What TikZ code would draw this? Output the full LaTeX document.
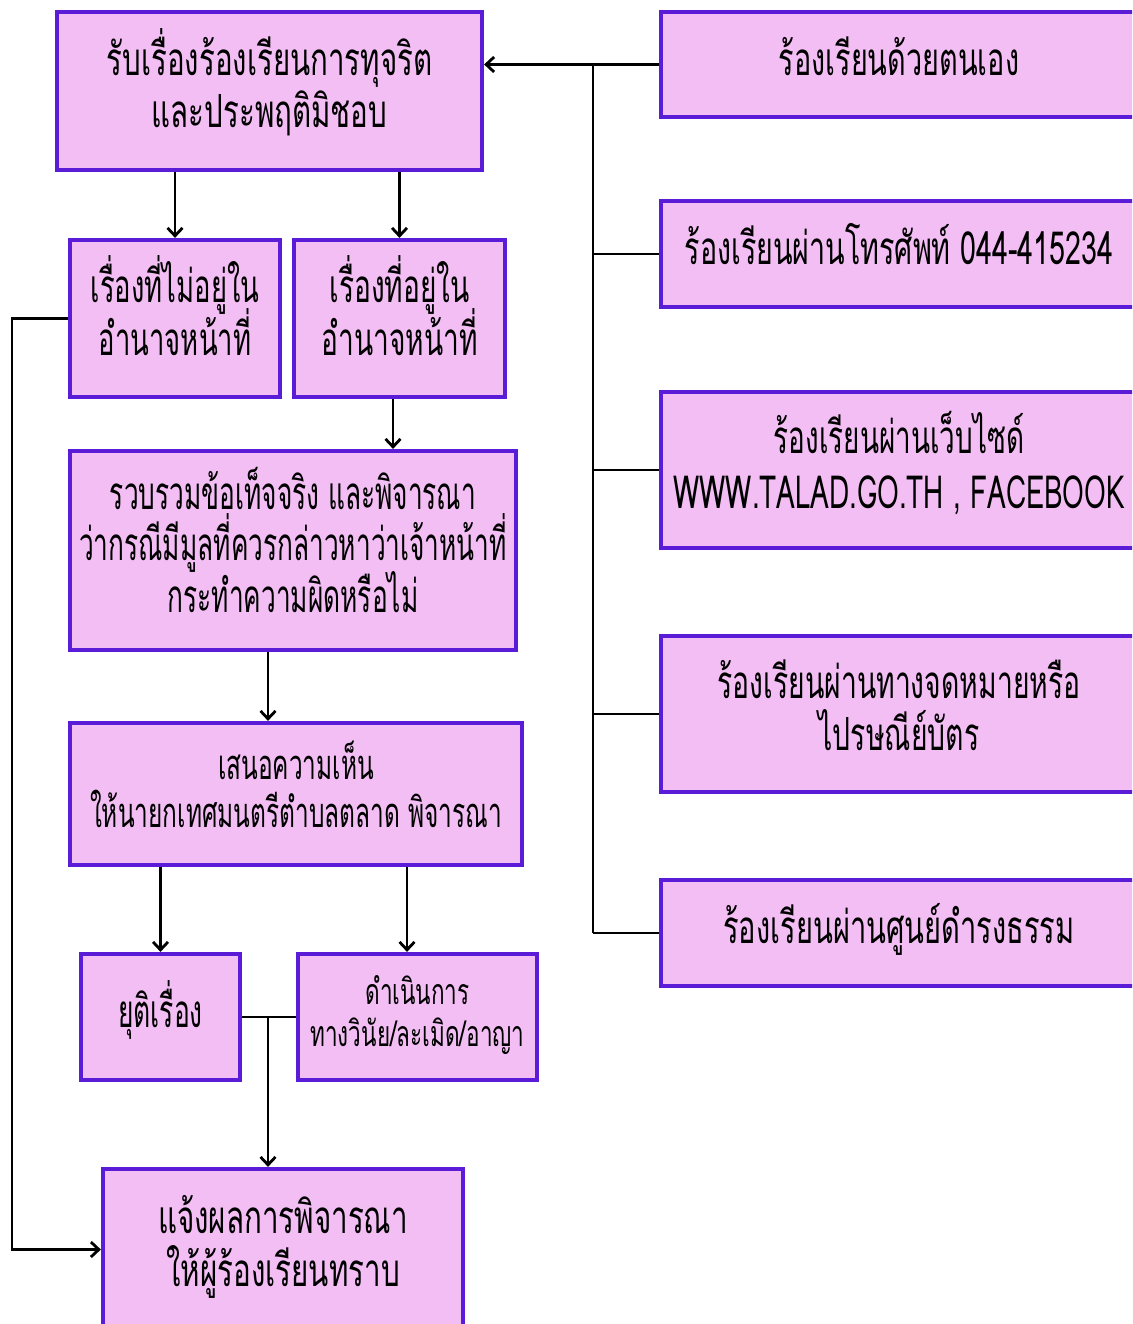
\documentclass[tikz,border=0pt]{standalone}
\usepackage{fontspec}
\usepackage{graphicx}
\setmainfont[Script=Thai]{Loma}
\usetikzlibrary{arrows.meta}
\definecolor{boxfill}{HTML}{F2BEF3}
\definecolor{boxline}{HTML}{5A1CD6}
\newcommand\txtbig{\fontsize{26}{30}\selectfont}
\newcommand\txtD{\fontsize{26}{29.5}\selectfont}
\newcommand\txtmid{\fontsize{23.7}{27.2}\selectfont}
\newcommand\txtsmall{\fontsize{20.3}{23.8}\selectfont}
\newcommand\txtRthree{\fontsize{26}{31.7}\selectfont}
\newcommand\sqz[2]{\scalebox{#1}[1]{\begin{tabular}{@{}c@{}}#2\end{tabular}}}
\newcommand\smL[1]{\smash{#1}}
\begin{document}
\begin{tikzpicture}[x=0.02cm,y=-0.02cm,
  box/.style={draw=boxline, line width=2.4pt, fill=boxfill, inner sep=0pt, align=center, font=\txtbig},
  sz/.style 2 args={minimum width=#1*0.02cm, minimum height=#2*0.02cm},
  link/.style={line width=1.6pt, black},
  arr/.style={link, -{Straight Barb[length=4.5pt,width=8.5pt,line width=1.6pt]}}]
\useasboundingbox (0,0) rectangle (1132,1324);
\clip (0,0) rectangle (1132,1324);
\fill[white] (0,0) rectangle (1132,1324);

\node[box,sz={425}{158}] (A) at (269.5,91) {\sqz{0.645}{\smL{รับเรื่องร้องเรียนการทุจริต}\\\smL{และประพฤติมิชอบ}}};
\node[box,sz={210}{157}] (B) at (175,318.5) {\sqz{0.60}{\smL{เรื่องที่ไม่อยู่ใน}\\\smL{อำนาจหน้าที่}}};
\node[box,sz={211}{157}] (C) at (399.5,318.5) {\sqz{0.615}{\smL{เรื่องที่อยู่ใน}\\\smL{อำนาจหน้าที่}}};
\node[box,sz={446}{199},font=\txtD] (D) at (293,550.5) {\sqz{0.575}{\smL{รวบรวมข้อเท็จจริง และพิจารณา}\\\smL{ว่ากรณีมีมูลที่ควรกล่าวหาว่าเจ้าหน้าที่}\\\smL{กระทำความผิดหรือไม่}}};
\node[box,sz={452}{142},font=\txtmid] (E) at (296,794) {\sqz{0.587}{\smL{เสนอความเห็น}\\\smL{ให้นายกเทศมนตรีตำบลตลาด พิจารณา}}};
\node[box,sz={159}{126}] (F) at (160.5,1017) {\sqz{0.578}{\smL{ยุติเรื่อง}}};
\node[box,sz={239}{126},font=\txtsmall] (G) at (417.5,1017) {\sqz{0.632}{\smL{ดำเนินการ}\\\smL{ทางวินัย/ละเมิด/อาญา}}};
\node[box,sz={360}{161}] (H) at (283,1249.5) {\sqz{0.647}{\smL{แจ้งผลการพิจารณา}\\\smL{ให้ผู้ร้องเรียนทราบ}}};

\node[box,sz={476}{105}] (R1) at (899,64.5) {\sqz{0.631}{\smL{ร้องเรียนด้วยตนเอง}}};
\node[box,sz={476}{106}] (R2) at (899,254) {\sqz{0.627}{\smL{ร้องเรียนผ่านโทรศัพท์ 044-415234}}};
\node[box,sz={476}{156},font=\txtRthree] (R3) at (899,470) {\sqz{0.61}{\smL{ร้องเรียนผ่านเว็บไซด์}\\\smL{WWW.TALAD.GO.TH , FACEBOOK}}};
\node[box,sz={476}{156}] (R4) at (899,714) {\sqz{0.62}{\smL{ร้องเรียนผ่านทางจดหมายหรือ}\\\smL{ไปรษณีย์บัตร}}};
\node[box,sz={476}{106}] (R5) at (899,933) {\sqz{0.636}{\smL{ร้องเรียนผ่านศูนย์ดำรงธรรม}}};

\coordinate (bus) at (593,0);
\coordinate (col) at (268,0);
\coordinate (eg) at (407,0);
\coordinate (cd) at (393,0);
\coordinate (lft) at (12,0);

\draw[arr] (R1.west) -- (R1.west -| A.east);
\draw[link] (R1.west -| bus) -- (R5.west -| bus);
\foreach \n in {R2,R3,R4,R5} \draw[link] (\n.west) -- (\n.west -| bus);
\draw[arr] (A.south -| B.north) -- (B.north);
\draw[arr] (A.south -| C.north) -- (C.north);
\draw[arr] (C.south -| cd) -- (D.north -| cd);
\draw[arr] (D.south -| col) -- (E.north -| col);
\draw[arr] (E.south -| F.north) -- (F.north);
\draw[arr] (E.south -| eg) -- (G.north -| eg);
\draw[link] (F.east) -- (G.west);
\draw[arr] (F.east -| col) -- (H.north -| col);
\draw[arr] (B.west) -- (B.west -| lft) |- (H.west);
\end{tikzpicture}
\end{document}
